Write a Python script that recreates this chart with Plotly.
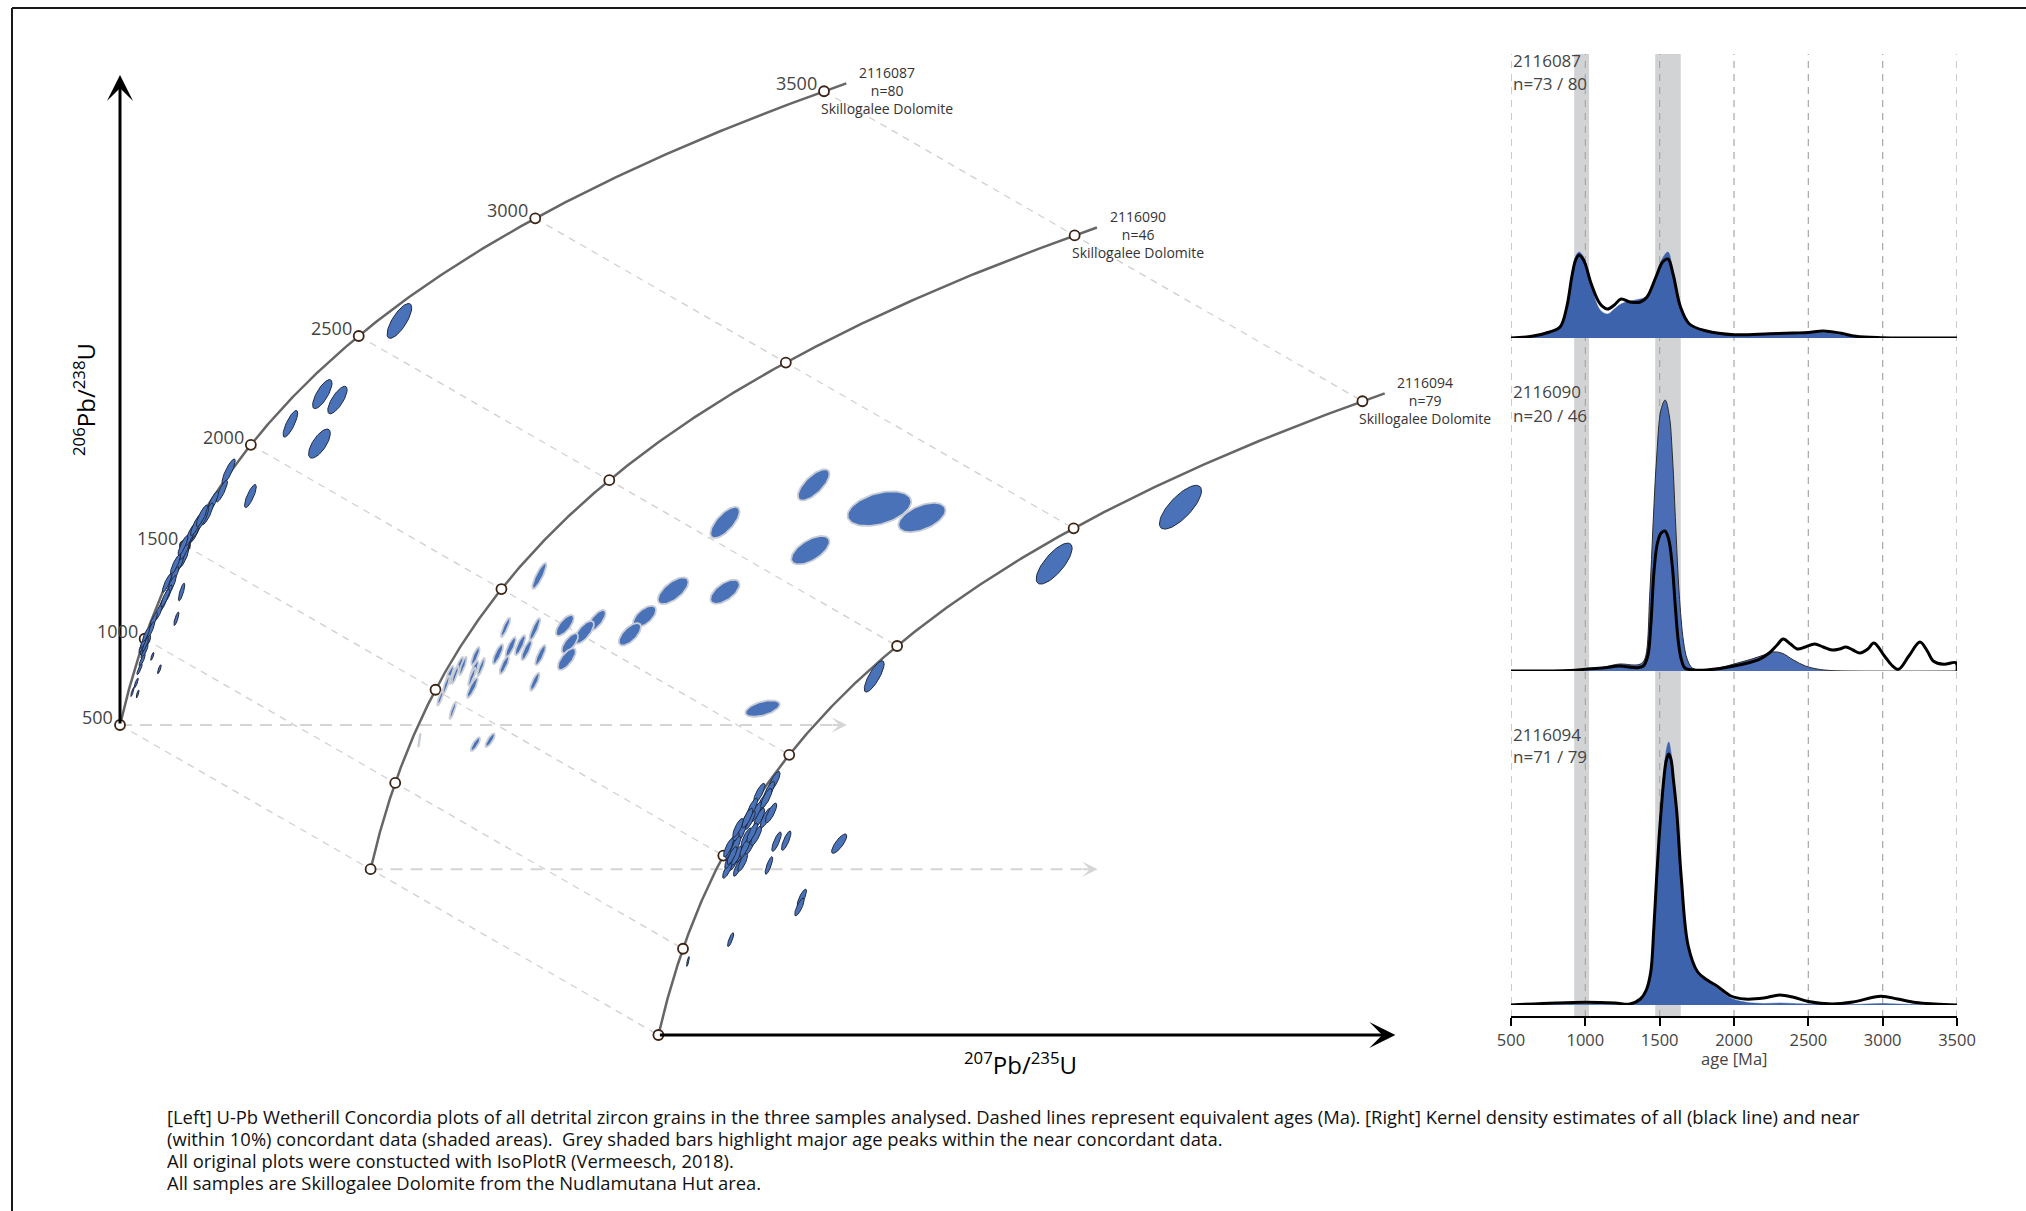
import numpy as np
import plotly.graph_objects as go

W, H = 2026, 1211

# ---------------- data ----------------
LAMBDA_238 = 1.55125e-4   # 1/Ma
LAMBDA_235 = 9.8485e-4    # 1/Ma

sample_ids = ["2116087", "2116090", "2116094"]
sample_n = ["n=80", "n=46", "n=79"]
kde_counts = ["n=73 / 80", "n=20 / 46", "n=71 / 79"]
formation = "Skillogalee Dolomite"
concordia_ages = [500, 1000, 1500, 2000, 2500, 3000, 3500]
concordia_end_age = 3530

# ellipses: 207Pb/235U, 206Pb/238U, half-width (207/235), half-height (206/238), error correlation
s1_x = [12.45, 9.19, 9.83, 7.84, 9.07, 6.15, 5.23, 4.94, 4.56, 4.34, 4.02, 3.81, 3.59, 3.45, 3.32, 3.13, 2.92, 2.81,
        2.65, 2.46, 2.27, 2.05, 1.94, 1.78, 1.67, 1.57, 1.46, 1.32, 1.16, 3.24, 3.02, 2.30, 2.00, 1.38, 1.62, 1.70,
        3.50, 3.65, 3.90, 3.38, 4.15, 2.55, 1.56, 1.64, 1.74, 2.62, 2.98, 3.62, 3.86, 4.10, 3.30]
s1_y = [0.489, 0.415, 0.409, 0.385, 0.365, 0.312, 0.337, 0.317, 0.306, 0.294, 0.286, 0.276, 0.270, 0.261, 0.249,
        0.243, 0.231, 0.222, 0.213, 0.204, 0.195, 0.186, 0.177, 0.164, 0.155, 0.146, 0.137, 0.123, 0.114, 0.215,
        0.188, 0.137, 0.150, 0.112, 0.158, 0.162, 0.266, 0.272, 0.281, 0.258, 0.290, 0.209, 0.160, 0.165, 0.172,
        0.224, 0.243, 0.273, 0.283, 0.292, 0.262]
s1_sx = [0.52, 0.41, 0.41, 0.31, 0.46, 0.25, 0.28, 0.24, 0.24, 0.24, 0.24, 0.24, 0.24, 0.22, 0.22, 0.21, 0.20, 0.20,
         0.19, 0.19, 0.18, 0.17, 0.16, 0.15, 0.15, 0.13, 0.11, 0.09, 0.07, 0.135, 0.108, 0.08, 0.07, 0.06, 0.13, 0.14,
         0.22, 0.22, 0.22, 0.21, 0.24, 0.19, 0.13, 0.14, 0.15, 0.19, 0.21, 0.23, 0.24, 0.24, 0.21]
s1_sy = [0.0176, 0.0147, 0.0139, 0.0135, 0.0147, 0.0117, 0.0125, 0.011, 0.011, 0.011, 0.011, 0.011, 0.011, 0.010,
         0.010, 0.010, 0.0098, 0.0098, 0.0092, 0.0092, 0.0088, 0.0085, 0.008, 0.0075, 0.0072, 0.0062, 0.0055, 0.005,
         0.0045, 0.009, 0.0068, 0.0045, 0.004, 0.004, 0.0065, 0.007, 0.0105, 0.011, 0.011, 0.010, 0.011, 0.0092,
         0.0065, 0.007, 0.0072, 0.0092, 0.0098, 0.011, 0.011, 0.011, 0.010]
s1_rho = [0.75, 0.75, 0.75, 0.8, 0.7, 0.8, 0.85, 0.85, 0.85, 0.85, 0.85, 0.85, 0.85, 0.85, 0.85, 0.85, 0.85, 0.85,
          0.85, 0.85, 0.85, 0.85, 0.85, 0.85, 0.85, 0.85, 0.85, 0.85, 0.85, 0.8, 0.8, 0.8, 0.8, 0.8, 0.85, 0.85,
          0.85, 0.85, 0.85, 0.85, 0.85, 0.85, 0.85, 0.85, 0.85, 0.85, 0.85, 0.85, 0.85, 0.85, 0.85]

s2_x = [19.37, 22.15, 23.95, 15.62, 19.23, 13.43, 15.62, 7.77, 12.22, 11.60, 8.85, 10.20, 9.66, 9.06, 7.58, 6.34,
        8.93, 6.02, 6.56, 6.96, 7.23, 7.82, 6.29, 5.07, 5.02, 4.40, 3.99, 7.58, 4.94, 3.59, 4.13, 5.07, 5.69, 2.70,
        17.21, 3.83, 4.21, 4.54, 4.11, 4.92, 5.31]
s2_y = [0.469, 0.445, 0.436, 0.431, 0.403, 0.362, 0.361, 0.377, 0.336, 0.318, 0.327, 0.332, 0.320, 0.309, 0.323,
        0.325, 0.293, 0.298, 0.305, 0.307, 0.302, 0.297, 0.287, 0.296, 0.282, 0.287, 0.278, 0.270, 0.264, 0.254,
        0.276, 0.207, 0.211, 0.211, 0.243, 0.267, 0.277, 0.286, 0.241, 0.275, 0.285]
s2_sx = [0.67, 1.35, 1.0, 0.62, 0.81, 0.65, 0.62, 0.30, 0.49, 0.47, 0.38, 0.38, 0.42, 0.35, 0.23, 0.20, 0.38, 0.22,
         0.22, 0.22, 0.22, 0.22, 0.20, 0.18, 0.18, 0.16, 0.16, 0.20, 0.23, 0.14, 0.15, 0.20, 0.20, 0.05, 0.73,
         0.15, 0.15, 0.16, 0.14, 0.16, 0.16]
s2_sy = [0.0158, 0.0175, 0.0148, 0.0158, 0.0144, 0.0135, 0.0122, 0.0131, 0.0108, 0.0113, 0.0106, 0.0106, 0.0115,
         0.010, 0.0113, 0.0097, 0.011, 0.010, 0.010, 0.010, 0.010, 0.010, 0.009, 0.009, 0.009, 0.008, 0.008, 0.009,
         0.0102, 0.008, 0.008, 0.0069, 0.0069, 0.007, 0.0083, 0.009, 0.009, 0.0092, 0.0085, 0.009, 0.009]
s2_rho = [0.7, 0.4, 0.5, 0.7, 0.6, 0.65, 0.6, 0.85, 0.6, 0.65, 0.7, 0.7, 0.7, 0.7, 0.85, 0.85, 0.7, 0.8, 0.8, 0.8,
          0.8, 0.8, 0.8, 0.8, 0.8, 0.8, 0.8, 0.8, 0.85, 0.85, 0.85, 0.8, 0.8, 0.9, 0.5, 0.85, 0.85, 0.85, 0.85,
          0.85, 0.85]

s3_x = [22.71, 17.37, 9.76, 5.53, 5.31, 5.04, 4.77, 4.50, 4.23, 4.10, 3.83, 3.70, 4.10, 4.50, 3.83, 3.56, 4.77, 5.18,
        3.95, 4.35, 3.65, 3.60, 4.00, 5.63, 6.04, 8.28, 5.31, 6.70, 6.60, 3.69, 1.885, 4.90, 5.20, 4.60, 4.40, 4.90,
        3.90, 4.30, 4.60, 3.75, 4.20, 5.40, 4.00]
s3_y = [0.614, 0.557, 0.443, 0.337, 0.327, 0.315, 0.306, 0.298, 0.292, 0.284, 0.276, 0.268, 0.264, 0.272, 0.256,
        0.248, 0.282, 0.300, 0.262, 0.280, 0.258, 0.270, 0.250, 0.276, 0.277, 0.274, 0.252, 0.219, 0.210, 0.177,
        0.155, 0.325, 0.320, 0.310, 0.300, 0.300, 0.272, 0.270, 0.285, 0.262, 0.255, 0.305, 0.290]
s3_sx = [0.89, 0.76, 0.42, 0.25, 0.24, 0.24, 0.24, 0.23, 0.23, 0.23, 0.22, 0.22, 0.22, 0.22, 0.21, 0.21, 0.23, 0.24,
         0.22, 0.22, 0.21, 0.21, 0.19, 0.20, 0.20, 0.32, 0.16, 0.20, 0.20, 0.13, 0.06, 0.24, 0.24, 0.23, 0.23, 0.23,
         0.22, 0.22, 0.23, 0.21, 0.21, 0.24, 0.22]
s3_sy = [0.0221, 0.0207, 0.0158, 0.010, 0.010, 0.010, 0.010, 0.0098, 0.0098, 0.0098, 0.0098, 0.0095, 0.0095, 0.0095,
         0.009, 0.009, 0.0098, 0.010, 0.0095, 0.0098, 0.009, 0.0095, 0.009, 0.0098, 0.0098, 0.0098, 0.0089, 0.009,
         0.009, 0.007, 0.005, 0.010, 0.010, 0.010, 0.0098, 0.0098, 0.0095, 0.0095, 0.0098, 0.009, 0.009, 0.010,
         0.0095]
s3_rho = [0.75, 0.75, 0.8, 0.8, 0.8, 0.8, 0.8, 0.8, 0.8, 0.8, 0.8, 0.8, 0.8, 0.8, 0.8, 0.8, 0.8, 0.8, 0.8, 0.8,
          0.8, 0.8, 0.8, 0.8, 0.8, 0.8, 0.8, 0.8, 0.8, 0.8, 0.8, 0.8, 0.8, 0.8, 0.8, 0.8, 0.8, 0.8, 0.8, 0.8,
          0.8, 0.8, 0.8]

# KDE (relative density)
kde_ticks = [500, 1000, 1500, 2000, 2500, 3000, 3500]
peak_bands = [[925, 1025], [1470, 1642]]

k1_age = [500, 640, 760, 830, 875, 910, 935, 958, 980, 1000, 1040, 1100, 1150, 1195, 1240, 1300, 1370, 1415, 1475,
          1520, 1556, 1590, 1640, 1700, 1815, 2000, 2240, 2400, 2500, 2600, 2710, 2820, 2990, 3200, 3500]
k1_all = [0, 1.7, 6, 11, 31, 62, 78, 83, 80, 74, 54, 34, 29, 33, 39, 36, 36, 41, 61, 76, 79, 64, 31, 14, 7, 3.3,
          4.3, 5, 5.5, 7, 5, 1.7, 0.3, 0, 0]
k1_conc = [0, 1.5, 5, 10, 30, 64, 82, 86, 83, 76, 52, 28, 24, 29, 34, 37, 39, 42, 63, 80, 86, 66, 30, 13, 6, 2.5,
           3.5, 4, 4.5, 5.5, 3.5, 1, 0, 0, 0]

k2_age_all = [500, 900, 1000, 1130, 1230, 1345, 1390, 1420, 1440, 1462, 1485, 1510, 1535, 1560, 1585, 1605, 1625,
              1645, 1670, 1720, 1815, 2000, 2170, 2237, 2290, 2331, 2380, 2425, 2480, 2542, 2600, 2660, 2710, 2753,
              2800, 2847, 2900, 2941, 3012, 3060, 3106, 3176, 3251, 3300, 3340, 3411, 3493, 3500]
k2_all = [0, 0.5, 1.7, 3.3, 5, 3.3, 5, 15, 45, 100, 128, 138, 140, 132, 105, 65, 30, 12, 3, 1, 1, 5, 11.7, 18, 26,
          32, 27, 22, 24, 27, 24, 21, 22, 24, 21, 18, 22, 28, 15, 6, 1.7, 15, 29, 20, 10, 6.7, 8.3, 0]
k2_age_conc = [500, 900, 1050, 1130, 1230, 1330, 1370, 1400, 1434, 1455, 1479, 1510, 1537, 1565, 1587, 1608, 1631,
               1660, 1685, 1720, 1800, 1900, 2000, 2120, 2200, 2260, 2320, 2400, 2480, 2560, 2650, 2800, 3500]
k2_conc = [0, 0.5, 2, 4, 7, 6, 7, 12, 78, 145, 212, 262, 271, 255, 212, 145, 78, 30, 12, 3, 1, 3, 7, 12, 16, 19, 18,
           11, 5, 2, 0.5, 0, 0]

k3_age = [500, 800, 1000, 1200, 1300, 1370, 1410, 1440, 1460, 1479, 1495, 1509, 1528, 1545, 1561, 1577, 1592, 1615,
          1646, 1692, 1756, 1820, 1885, 1979, 2073, 2200, 2307, 2401, 2500, 2660, 2800, 2988, 3100, 3223, 3350, 3500]
k3_all = [0, 2, 2.7, 2, 1, 6, 15, 33, 75, 126, 165, 193, 226, 245, 251, 245, 226, 193, 126, 59, 33, 25, 19, 9, 6, 7,
          10, 7.7, 3.5, 1, 3, 8.7, 6, 2.5, 1, 0]
k3_conc = [0, 0.5, 0.8, 0.5, 0.5, 5, 14, 32, 75, 128, 168, 198, 232, 255, 263, 252, 230, 195, 126, 59, 33, 25, 17, 7,
           3, 1.5, 2, 1.5, 1, 0.5, 0.5, 1.5, 1, 0.5, 0.2, 0]

caption_lines = [
    "[Left] U-Pb Wetherill Concordia plots of all detrital zircon grains in the three samples analysed. Dashed lines represent equivalent ages (Ma). [Right] Kernel density estimates of all (black line) and near",
    "(within 10%) concordant data (shaded areas).  Grey shaded bars highlight major age peaks within the near concordant data.",
    "All original plots were constucted with IsoPlotR (Vermeesch, 2018).",
    "All samples are Skillogalee Dolomite from the Nudlamutana Hut area.",
]

# ---------------- layout geometry (pixels) ----------------
ORIGIN = (120.0, 725.0)          # 500 Ma point of the first diagram
KX, KY = 23.65, 989.6            # px per unit ratio
OFFS = [(0.0, 0.0), (250.6, 144.2), (538.4, 310.0)]
AXIS_LEN = [727, 727, 737]
Y_TIP = 75
CONC_DOMAIN = 1480
KDE_X0, KDE_X1 = 1511, 1957
KDE_BASE = [338, 671, 1005]
KDE_AXIS_Y = 1017
KDE_TOP = 54
PANEL_H = 300

FONT = "Open Sans"
BLUE = "#4a72b8"


def conc(t):
    t = np.asarray(t, dtype=float)
    return np.expm1(LAMBDA_235 * t), np.expm1(LAMBDA_238 * t)


def shift(x, y, k):
    return np.asarray(x) + OFFS[k][0] / KX, np.asarray(y) - OFFS[k][1] / KY


x500, y500 = [float(v) for v in conc(500)]

fig = go.Figure()

# dashed equal-age connectors
cx, cy = [], []
for t in concordia_ages:
    x, y = conc(t)
    xa, ya = shift(x, y, 0)
    xb, yb = shift(x, y, 2)
    cx += [float(xa), float(xb), None]
    cy += [float(ya), float(yb), None]
fig.add_trace(go.Scatter(x=cx, y=cy, mode="lines", line=dict(color="#d0d0d0", width=1.3, dash="7px,6px"),
                         hoverinfo="skip", showlegend=False))

annotations = []

# grey dashed x axes for the first two diagrams
for k in (0, 1):
    xa, ya = shift(x500, y500, k)
    xa, ya = float(xa), float(ya)
    fig.add_trace(go.Scatter(x=[xa, xa + (AXIS_LEN[k] - 12) / KX], y=[ya, ya], mode="lines",
                             line=dict(color="#d5d5d5", width=2, dash="12px,8px"),
                             hoverinfo="skip", showlegend=False))
    annotations.append(dict(x=xa + AXIS_LEN[k] / KX, y=ya, ax=xa + (AXIS_LEN[k] - 16) / KX, ay=ya,
                            xref="x", yref="y", axref="x", ayref="y", text="", showarrow=True,
                            arrowhead=3, arrowsize=1.3, arrowwidth=2, arrowcolor="#d5d5d5"))

# black axes
annotations.append(dict(x=x500, y=y500 + (ORIGIN[1] - Y_TIP) / KY, ax=x500, ay=y500,
                        xref="x", yref="y", axref="x", ayref="y", text="", showarrow=True,
                        arrowhead=3, arrowsize=1.45, arrowwidth=3, arrowcolor="black"))
xa3, ya3 = [float(v) for v in shift(x500, y500, 2)]
annotations.append(dict(x=xa3 + AXIS_LEN[2] / KX, y=ya3, ax=xa3, ay=ya3,
                        xref="x", yref="y", axref="x", ayref="y", text="", showarrow=True,
                        arrowhead=3, arrowsize=1.45, arrowwidth=3, arrowcolor="black"))

# concordia curves
tt = np.linspace(500, concordia_end_age, 400)
xc, yc = conc(tt)
for k in range(3):
    xs, ys = shift(xc, yc, k)
    fig.add_trace(go.Scatter(x=xs, y=ys, mode="lines", line=dict(color="#666666", width=2.5),
                             hoverinfo="skip", showlegend=False))

# age markers
xt, yt = conc(concordia_ages)
for k in range(3):
    xs, ys = shift(xt, yt, k)
    fig.add_trace(go.Scatter(x=xs, y=ys, mode="markers",
                             marker=dict(symbol="circle", size=10, color="white",
                                         line=dict(color="#3b2416", width=1.8)),
                             hoverinfo="skip", showlegend=False))

# error ellipses, one closed shape per grain
ell = [(s1_x, s1_y, s1_sx, s1_sy, s1_rho), (s2_x, s2_y, s2_sx, s2_sy, s2_rho), (s3_x, s3_y, s3_sx, s3_sy, s3_rho)]
ell_line = [dict(color="#1e2a44", width=1), dict(color="#c9cdd6", width=1.8), dict(color="#1e2a44", width=1)]
th = np.linspace(0, 2 * np.pi, 72)
for k in range(3):
    for x, y, sx, sy, r in zip(*ell[k]):
        ex = x + sx * np.cos(th)
        ey = y + sy * (r * np.cos(th) + np.sqrt(1 - r * r) * np.sin(th))
        ex, ey = shift(ex, ey, k)
        fig.add_trace(go.Scatter(x=ex, y=ey, mode="lines", fill="toself", fillcolor=BLUE, line=ell_line[k],
                                 hoverinfo="skip", showlegend=False))

# age labels on the first concordia
for t, x, y in zip(concordia_ages, xt, yt):
    annotations.append(dict(x=float(x), y=float(y), xref="x", yref="y", text=str(t), showarrow=False,
                            xanchor="right", yanchor="middle", xshift=-5, yshift=8,
                            font=dict(family=FONT, size=18, color="#444444")))

# sample labels
for k in range(3):
    xs, ys = shift(xt[-1], yt[-1], k)
    annotations.append(dict(x=float(xs), y=float(ys), xref="x", yref="y",
                            text=f"{sample_ids[k]}<br>{sample_n[k]}<br>{formation}", showarrow=False,
                            xanchor="center", yanchor="middle", align="center", xshift=63, yshift=1,
                            font=dict(family=FONT, size=14, color="#333333")))

# ---------------- KDE panels ----------------
kde = [(k1_age, k1_all, k1_age, k1_conc), (k2_age_all, k2_all, k2_age_conc, k2_conc),
       (k3_age, k3_all, k3_age, k3_conc)]
fill_cols = ["#3d63ad", "#4b6db5", "#3d63ad"]
fill_lines = [dict(color="#3d63ad", width=0.5), dict(color="#2b2b2b", width=1), dict(color="#3d63ad", width=0.5)]
for k in range(3):
    ya = f"y{k + 2}"
    age_a, dens_a, age_c, dens_c = kde[k]
    fig.add_trace(go.Scatter(x=age_c, y=dens_c, xaxis="x2", yaxis=ya, mode="lines", fill="tozeroy",
                             fillcolor=fill_cols[k], line=fill_lines[k], line_shape="spline",
                             hoverinfo="skip", showlegend=False))
    fig.add_trace(go.Scatter(x=age_a, y=dens_a, xaxis="x2", yaxis=ya, mode="lines",
                             line=dict(color="black", width=3), line_shape="spline",
                             hoverinfo="skip", showlegend=False))

shapes = []
yb = (H - KDE_AXIS_Y) / H
ytp = (H - KDE_TOP) / H
for a, b in peak_bands:
    shapes.append(dict(type="rect", xref="x2", yref="paper", x0=a, x1=b, y0=yb, y1=ytp,
                       fillcolor="#d2d3d5", line=dict(width=0), layer="below"))
for t in kde_ticks:
    shapes.append(dict(type="line", xref="x2", yref="paper", x0=t, x1=t, y0=yb, y1=ytp,
                       line=dict(color="#a8a8a8", width=1.2, dash="7px,6px"), layer="below"))
# frame
shapes.append(dict(type="line", xref="paper", yref="paper", x0=12 / W, x1=1, y0=(H - 8) / H, y1=(H - 8) / H,
                   line=dict(color="#1a1a1a", width=2)))
shapes.append(dict(type="line", xref="paper", yref="paper", x0=12 / W, x1=12 / W, y0=0, y1=(H - 8) / H,
                   line=dict(color="#1a1a1a", width=2)))

kde_label_y = [(61, 83), (392, 415), (734, 756)]
for k in range(3):
    for txt, yy in zip([sample_ids[k], kde_counts[k]], kde_label_y[k]):
        annotations.append(dict(x=KDE_X0 / W, y=(H - yy) / H, xref="paper", yref="paper", text=txt,
                                showarrow=False, xanchor="left", yanchor="middle",
                                font=dict(family=FONT, size=17, color="#444444")))
annotations.append(dict(x=2000, y=(H - 1058) / H, xref="x2", yref="paper", text="age [Ma]", showarrow=False,
                        xanchor="center", yanchor="middle", font=dict(family=FONT, size=16.5, color="#444444")))

# axis titles of concordia diagram
annotations.append(dict(x=84 / W, y=(H - 400) / H, xref="paper", yref="paper",
                        text="<sup>206</sup>Pb/<sup>238</sup>U", textangle=-90, showarrow=False,
                        xanchor="center", yanchor="middle", font=dict(family=FONT, size=24, color="black")))
annotations.append(dict(x=1021 / W, y=(H - 1063) / H, xref="paper", yref="paper",
                        text="<sup>207</sup>Pb/<sup>235</sup>U", showarrow=False,
                        xanchor="center", yanchor="middle", font=dict(family=FONT, size=24, color="black")))

# caption
for i, line in enumerate(caption_lines):
    annotations.append(dict(x=165 / W, y=(H - (1116 + 22 * i)) / H, xref="paper", yref="paper", text=line,
                            showarrow=False, xanchor="left", yanchor="middle",
                            font=dict(family=FONT, size=18.4, color="#111111")))

layout = dict(
    template="none",
    width=W, height=H, autosize=False, margin=dict(l=0, r=0, t=0, b=0, pad=0),
    paper_bgcolor="white", plot_bgcolor="rgba(0,0,0,0)", showlegend=False,
    font=dict(family=FONT),
    xaxis=dict(domain=[0, CONC_DOMAIN / W], range=[x500 - ORIGIN[0] / KX, x500 + (CONC_DOMAIN - ORIGIN[0]) / KX],
               visible=False, anchor="y", automargin=False, showgrid=False, zeroline=False),
    yaxis=dict(domain=[0, 1], range=[y500 - (H - ORIGIN[1]) / KY, y500 + ORIGIN[1] / KY], visible=False,
               anchor="x", automargin=False, showgrid=False, zeroline=False),
    xaxis2=dict(domain=[KDE_X0 / W, KDE_X1 / W], range=[500, 3500], anchor="free", position=yb,
                showline=True, linecolor="black", linewidth=2, ticks="outside", ticklen=8, tickwidth=1.5,
                tickcolor="black", tickvals=kde_ticks, showgrid=False, zeroline=False, automargin=False,
                tickfont=dict(family=FONT, size=16.5, color="#444444")),
    shapes=shapes, annotations=annotations,
)
for k in range(3):
    b = KDE_BASE[k]
    layout[f"yaxis{k + 2}"] = dict(domain=[(H - b) / H, (H - b + PANEL_H) / H], range=[0, PANEL_H],
                                   visible=False, anchor="x2", automargin=False, showgrid=False, zeroline=False)
fig.update_layout(**layout)

fig.write_html("out.html", config={"displayModeBar": False},
               post_script="document.body.style.margin='0';document.body.style.overflow='hidden';")
